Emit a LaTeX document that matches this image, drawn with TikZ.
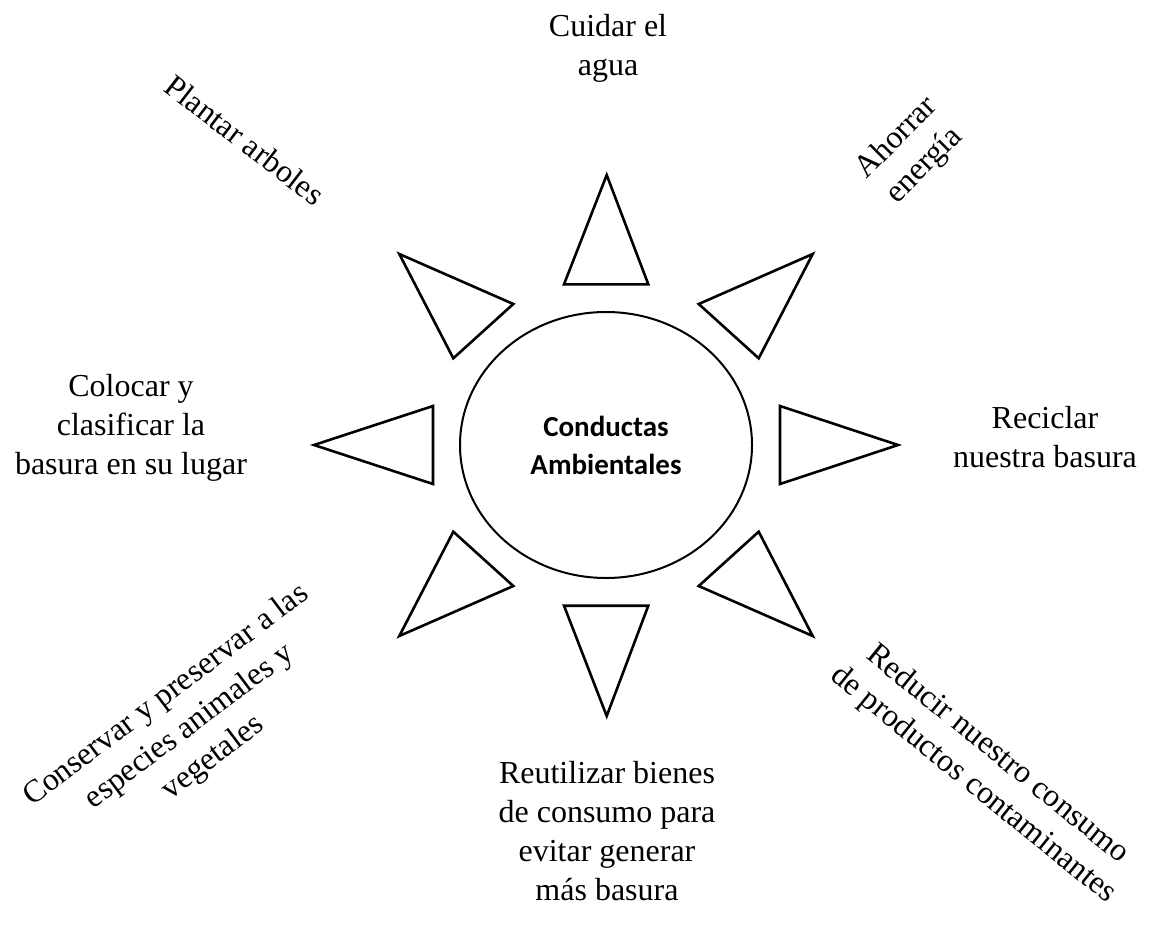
\documentclass[tikz,border=0pt]{standalone}
\usepackage{fontspec}
\setmainfont{Liberation Serif}
\newfontfamily\hubfont{Carlito}
\usetikzlibrary{shapes.geometric}
\begin{document}
\begin{tikzpicture}[x=1pt,y=-1pt,
  ray/.style={draw=black,line width=2.6pt,line join=miter,fill=white},
  hub/.style={draw=black,line width=2pt,ellipse,minimum width=292pt,minimum height=266pt,inner sep=0pt,
    font=\hubfont\bfseries\fontsize{29}{38}\selectfont,align=center},
  caption/.style={font=\fontsize{32}{39}\selectfont,align=center,inner sep=0pt}]
\useasboundingbox (0,0) rectangle (1153,934);

% central hub
\node[hub] (hub) at (606,445) {Conductas\\Ambientales};

% the eight rays around the hub
\draw[ray] (606.7,175) -- (564,284.3) -- (648.3,284.3) -- cycle;
\draw[ray] (564,605.7) -- (648.3,605.7) -- (606.7,716) -- cycle;
\draw[ray] (314,445) -- (433,406) -- (433,484) -- cycle;
\draw[ray] (780,406) -- (780,484) -- (898,445) -- cycle;
\draw[ray] (698.7,304) -- (758.7,358.3) -- (812.7,254) -- cycle;
\draw[ray] (399.3,254) -- (513.3,304) -- (453.3,358.3) -- cycle;
\draw[ray] (453.3,531.7) -- (513.3,586) -- (399.3,636) -- cycle;
\draw[ray] (758.7,531.7) -- (698.7,586) -- (812.7,636) -- cycle;

% labels
\node[caption] (water) at (608,48) {Cuidar el\\agua};
\node[caption,rotate=45] (energy) at (911,152) {Ahorrar\\energía};
\node[caption,rotate=-37.6] (trees) at (245,140) {Plantar arboles};
\node[caption] (sort) at (131,428) {Colocar y\\clasificar la\\basura en su lugar};
\node[caption] (recycle) at (1045,437) {Reciclar\\nuestra basura};
\node[caption] (reuse) at (607,831) {Reutilizar bienes\\de consumo para\\evitar generar\\más basura};
\node[caption,rotate=37] (species) at (190,727) {Conservar y preservar a las\\especies animales y\\vegetales};
\node[caption,rotate=-39] (reduce) at (985,770) {Reducir nuestro consumo\\de productos contaminantes};
\end{tikzpicture}
\end{document}
